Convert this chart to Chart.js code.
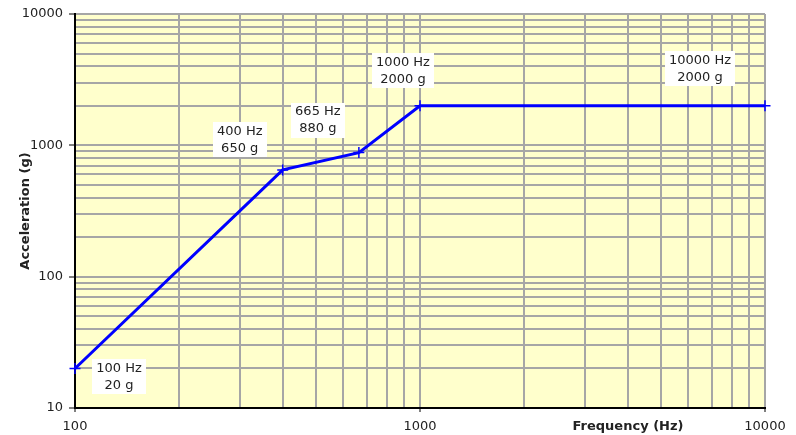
<!DOCTYPE html>
<html>
<head>
<meta charset="utf-8">
<script src="https://cdn.jsdelivr.net/npm/chart.js@4/dist/chart.umd.min.js"></script>
<style>
  html, body { margin: 0; padding: 0; background: #ffffff; }
  #wrap { width: 796px; height: 435px; }
</style>
</head>
<body>
<div id="wrap"><canvas id="c" width="796" height="435"></canvas></div>
<script>
// Shock profile breakpoints
const frequencies = [100, 400, 665, 1000, 10000];      // Hz
const accelerations = [20, 650, 880, 2000, 2000];      // g

// Log grid lines and the labelled decades
const freqGrid = [100, 200, 300, 400, 500, 600, 700, 800, 900,
                  1000, 2000, 3000, 4000, 5000, 6000, 7000, 8000, 9000, 10000];
const accelGrid = [10, 20, 30, 40, 50, 60, 70, 80, 90,
                   100, 200, 300, 400, 500, 600, 700, 800, 900,
                   1000, 2000, 3000, 4000, 5000, 6000, 7000, 8000, 9000, 10000];
const freqLabels = [100, 1000, 10000];
const accelLabels = [10, 100, 1000, 10000];

const xTitle = 'Frequency (Hz)';
const yTitle = 'Acceleration (g)';

// Callout placement relative to each breakpoint (px)
const calloutOffsets = [[44, 9], [-43, -30], [-41, -32], [-17, -35], [-65, -37]];

const FONT = '"DejaVu Sans", Verdana, sans-serif';
const TEXT = '#222222';
const LINE = '#0000ff';

Chart.defaults.font.family = FONT;
Chart.defaults.font.size = 13;
Chart.defaults.color = TEXT;

const plotBackground = {
  id: 'plotBackground',
  beforeDraw(chart) {
    const { ctx, chartArea: a } = chart;
    ctx.save();
    ctx.fillStyle = '#ffffcc';
    ctx.fillRect(a.left, a.top, a.right - a.left, a.bottom - a.top);
    ctx.restore();
  }
};

const callouts = {
  id: 'callouts',
  afterDatasetsDraw(chart) {
    const { ctx } = chart;
    const meta = chart.getDatasetMeta(0);
    ctx.save();
    ctx.font = '13px ' + FONT;
    ctx.textAlign = 'center';
    ctx.textBaseline = 'middle';
    meta.data.forEach((pt, i) => {
      const lines = [frequencies[i] + ' Hz', accelerations[i] + ' g'];
      const cx = pt.x + calloutOffsets[i][0];
      const cy = pt.y + calloutOffsets[i][1];
      const w = Math.max(...lines.map(s => ctx.measureText(s).width)) + 8;
      ctx.fillStyle = '#ffffff';
      ctx.fillRect(Math.round(cx - w / 2), Math.round(cy - 18), Math.round(w), 35);
      ctx.fillStyle = TEXT;
      ctx.fillText(lines[0], cx, cy - 8.5);
      ctx.fillText(lines[1], cx, cy + 8.5);
    });
    ctx.restore();
  }
};

const xAxisTitle = {
  id: 'xAxisTitle',
  afterDraw(chart) {
    const { ctx } = chart;
    ctx.save();
    ctx.font = 'bold 13px ' + FONT;
    ctx.fillStyle = TEXT;
    ctx.textAlign = 'center';
    ctx.textBaseline = 'middle';
    ctx.fillText(xTitle, 628, 427);
    ctx.restore();
  }
};

new Chart(document.getElementById('c'), {
  type: 'line',
  data: {
    datasets: [{
      data: frequencies.map((f, i) => ({ x: f, y: accelerations[i] })),
      borderColor: LINE,
      backgroundColor: LINE,
      borderWidth: 3,
      pointStyle: 'cross',
      pointRadius: 5.5,
      pointBorderWidth: 1.5,
      pointBorderColor: LINE,
      clip: false,
      tension: 0
    }]
  },
  options: {
    responsive: false,
    animation: false,
    devicePixelRatio: 1,
    layout: { padding: { top: 14, right: 31, bottom: 0, left: 0 } },
    plugins: { legend: { display: false }, tooltip: { enabled: false } },
    scales: {
      x: {
        type: 'logarithmic',
        min: 100,
        max: 10000,
        afterBuildTicks(scale) { scale.ticks = freqGrid.map(v => ({ value: v })); },
        afterFit(scale) { scale.height = 27; },
        ticks: {
          autoSkip: false,
          maxRotation: 0,
          padding: 7,
          color: TEXT,
          callback: v => freqLabels.includes(v) ? String(v) : ''
        },
        grid: {
          color: '#a6a6a6',
          lineWidth: 2,
          tickLength: 4,
          tickWidth: 1,
          tickColor: c => freqLabels.includes(c.tick.value) ? '#000000' : 'rgba(0,0,0,0)'
        },
        border: { color: '#000000', width: 2 }
      },
      y: {
        type: 'logarithmic',
        min: 10,
        max: 10000,
        afterBuildTicks(scale) { scale.ticks = accelGrid.map(v => ({ value: v })); },
        afterFit(scale) { scale.width = 75; },
        title: {
          display: true,
          text: yTitle,
          font: { weight: 'bold', size: 13 },
          color: TEXT,
          padding: { top: 18, bottom: 0 }
        },
        ticks: {
          autoSkip: false,
          padding: 6,
          color: TEXT,
          callback: v => accelLabels.includes(v) ? String(v) : ''
        },
        grid: {
          color: '#a6a6a6',
          lineWidth: 2,
          tickLength: 6,
          tickWidth: 1,
          tickColor: c => accelLabels.includes(c.tick.value) ? '#000000' : 'rgba(0,0,0,0)'
        },
        border: { color: '#000000', width: 2 }
      }
    }
  },
  plugins: [plotBackground, callouts, xAxisTitle]
});
</script>
</body>
</html>
